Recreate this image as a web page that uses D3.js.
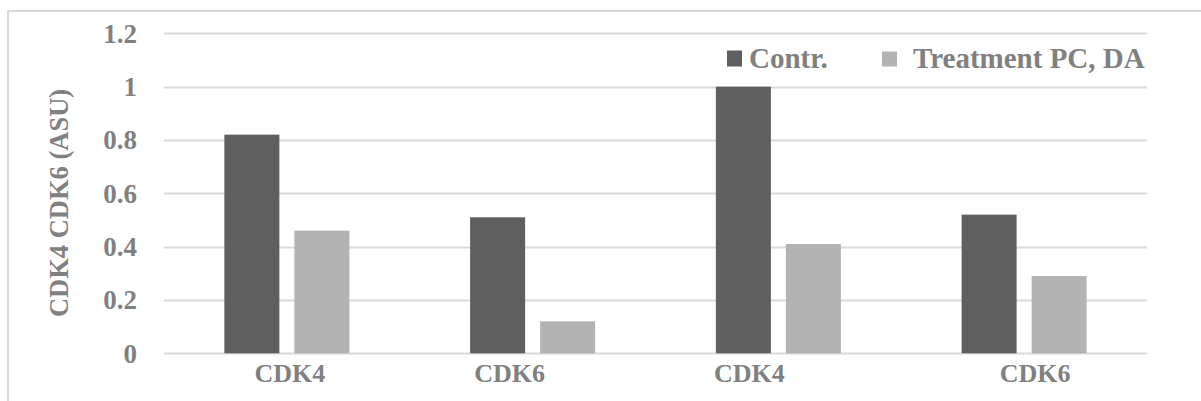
<!DOCTYPE html>
<html>
<head>
<meta charset="utf-8">
<script src="https://cdn.jsdelivr.net/npm/d3@7"></script>
<style>
  html, body { margin: 0; padding: 0; background: #ffffff; }
  svg { display: block; }
  text { font-family: "Liberation Serif", "Times New Roman", serif; font-weight: bold; fill: #808080; }
</style>
</head>
<body>
<svg id="chart" width="1201" height="401"></svg>
<script>
// Protein levels per group, two series
const categories = ["CDK4", "CDK6", "CDK4", "CDK6"];
const seriesNames = ["Contr.", "Treatment PC, DA"];
const contrValues = [0.82, 0.51, 1.0, 0.52];
const treatmentValues = [0.46, 0.12, 0.41, 0.29];
const yTicks = [0, 0.2, 0.4, 0.6, 0.8, 1, 1.2];
const yTitle = "CDK4 CDK6 (ASU)";

// horizontal nudges of the category labels under each group
const labelShift = [3, -23, -29, 11];

const colors = ["#5f5f5f", "#b3b3b3"];
const seriesValues = [contrValues, treatmentValues];

const svg = d3.select("#chart");
const plot = { left: 164, right: 1147, top: 33.3, bottom: 353.3 };

// chart area frame
svg.append("path")
  .attr("d", "M8,402 L8,11 L1202,11")
  .attr("fill", "none")
  .attr("stroke", "#d9d9d9")
  .attr("stroke-width", 2);

const y = d3.scaleLinear().domain([0, 1.2]).range([plot.bottom, plot.top]);
const x0 = d3.scaleBand()
  .domain(d3.range(categories.length))
  .range([plot.left, plot.right])
  .padding(0);
const x1 = d3.scaleBand()
  .domain(d3.range(seriesNames.length))
  .range([0, x0.bandwidth()])
  .paddingInner(15 / 70)
  .paddingOuter(0.862);

// gridlines
svg.append("g")
  .selectAll("line")
  .data(yTicks)
  .join("line")
  .attr("x1", plot.left)
  .attr("x2", plot.right)
  .attr("y1", d => Math.round(y(d)) + 0.5)
  .attr("y2", d => Math.round(y(d)) + 0.5)
  .attr("stroke", "#d9d9d9")
  .attr("stroke-width", 2);

// y tick labels
svg.append("g")
  .selectAll("text")
  .data(yTicks)
  .join("text")
  .attr("x", 137)
  .attr("y", d => y(d))
  .attr("dy", "0.35em")
  .attr("text-anchor", "end")
  .style("font-size", "27px")
  .text(d => String(+d.toFixed(1)));

// y axis title
svg.append("text")
  .attr("transform", `translate(68,203) rotate(-90)`)
  .attr("text-anchor", "middle")
  .style("font-size", "26.5px")
  .text(yTitle);

// bars
const groups = svg.append("g")
  .selectAll("g")
  .data(categories.map((c, i) => i))
  .join("g")
  .attr("transform", i => `translate(${x0(i)},0)`);

groups.selectAll("rect")
  .data(i => seriesValues.map((vals, s) => ({ s, v: vals[i] })))
  .join("rect")
  .attr("x", d => x1(d.s))
  .attr("width", x1.bandwidth())
  .attr("y", d => y(d.v))
  .attr("height", d => y(0) - y(d.v))
  .attr("fill", d => colors[d.s]);

// category labels
svg.append("g")
  .selectAll("text")
  .data(categories)
  .join("text")
  .attr("x", (c, i) => x0(i) + x0.bandwidth() / 2 + labelShift[i])
  .attr("y", 382)
  .attr("text-anchor", "middle")
  .style("font-size", "26px")
  .text(c => c);

// legend
const legendItems = [
  { x: 727, w: 15, h: 16, textX: 749 },
  { x: 882, w: 15, h: 15, textX: 913 }
];
const legend = svg.append("g");
seriesNames.forEach((name, i) => {
  const it = legendItems[i];
  legend.append("rect")
    .attr("x", it.x)
    .attr("y", 66.5 - it.h)
    .attr("width", it.w)
    .attr("height", it.h)
    .attr("fill", colors[i]);
  legend.append("text")
    .attr("x", it.textX)
    .attr("y", 68)
    .style("font-size", "29px")
    .text(name);
});
</script>
</body>
</html>
